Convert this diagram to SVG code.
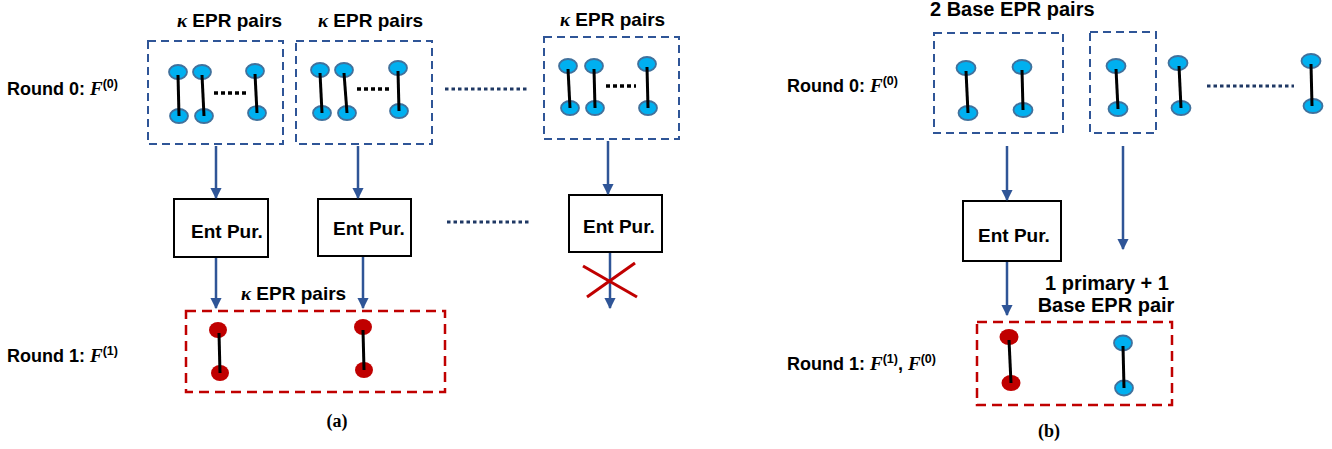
<svg xmlns="http://www.w3.org/2000/svg" width="1332" height="449" viewBox="0 0 1332 449">
<style>
.lbl{font-family:"Liberation Sans",Arial,sans-serif;font-weight:bold;fill:#000}
.mi{font-family:"Liberation Serif","Times New Roman",serif;font-weight:bold;font-style:italic}
.cap{font-family:"Liberation Serif","Times New Roman",serif;font-weight:bold;font-size:18px;fill:#000}
.bbox{fill:none;stroke:#2F5597;stroke-width:2;stroke-dasharray:8 5}
.rbox{fill:none;stroke:#C00000;stroke-width:2.5;stroke-dasharray:10 6}
.ent{fill:#fff;stroke:#000;stroke-width:2}
.bq{fill:#00B0F0;stroke:#41719C;stroke-width:1.8}
.rq{fill:#C00000}
.bond{stroke:#000;stroke-width:3}
.kdots{stroke:#000;stroke-width:3.5;stroke-dasharray:4 3}
.ndots{stroke:#1F3864;stroke-width:3;stroke-dasharray:3.5 3}
.arr{stroke:#2F5597;stroke-width:2.5;fill:none;marker-end:url(#ah)}
.x{stroke:#C00000;stroke-width:3}
</style>
<defs>
<marker id="ah" viewBox="0 0 10 10" refX="9" refY="5" markerWidth="4.6" markerHeight="4.6" orient="auto" markerUnits="strokeWidth">
<path d="M0,0 L10,5 L0,10 z" fill="#2F5597"/>
</marker>
</defs>

<!-- Panel (a) -->
<g id="a-labels">
<text class="lbl" x="177" y="27" font-size="19"><tspan class="mi">κ</tspan> EPR pairs</text>
<text class="lbl" x="318" y="27" font-size="19"><tspan class="mi">κ</tspan> EPR pairs</text>
<text class="lbl" x="560" y="26" font-size="19"><tspan class="mi">κ</tspan> EPR pairs</text>
<text class="lbl" x="241" y="300" font-size="19"><tspan class="mi">κ</tspan> EPR pairs</text>
<text class="lbl" x="7" y="95" font-size="18">Round 0: <tspan class="mi" font-size="19">F</tspan><tspan font-size="12.5" dy="-7">(0)</tspan></text>
<text class="lbl" x="7" y="362" font-size="18">Round 1: <tspan class="mi" font-size="19">F</tspan><tspan font-size="12.5" dy="-7">(1)</tspan></text>
<text class="cap" x="337" y="427" text-anchor="middle">(a)</text>
</g>

<g id="a-group1">
<rect class="bbox" x="148" y="41" width="135" height="103"/>
<ellipse class="bq" cx="178" cy="72" rx="9" ry="7"/><ellipse class="bq" cx="179" cy="116" rx="9" ry="7"/><line class="bond" x1="178" y1="75" x2="179" y2="116"/>
<ellipse class="bq" cx="202" cy="72" rx="9" ry="7"/><ellipse class="bq" cx="204" cy="116" rx="9" ry="7"/><line class="bond" x1="202" y1="75" x2="204" y2="116"/>
<ellipse class="bq" cx="255" cy="71" rx="9" ry="7"/><ellipse class="bq" cx="257" cy="113" rx="9" ry="7"/><line class="bond" x1="255" y1="74" x2="257" y2="113"/>
<line class="kdots" x1="214" y1="93" x2="248" y2="93"/>
</g>

<g id="a-group2">
<rect class="bbox" x="296" y="41" width="136" height="103"/>
<ellipse class="bq" cx="320" cy="70" rx="9" ry="7"/><ellipse class="bq" cx="322" cy="113" rx="9" ry="7"/><line class="bond" x1="320" y1="73" x2="322" y2="113"/>
<ellipse class="bq" cx="344" cy="70" rx="9" ry="7"/><ellipse class="bq" cx="347" cy="113" rx="9" ry="7"/><line class="bond" x1="344" y1="73" x2="347" y2="113"/>
<ellipse class="bq" cx="398" cy="68" rx="9" ry="7"/><ellipse class="bq" cx="399" cy="111" rx="9" ry="7"/><line class="bond" x1="398" y1="71" x2="399" y2="111"/>
<line class="kdots" x1="357" y1="89" x2="390" y2="89"/>
</g>

<g id="a-group3">
<rect class="bbox" x="544" y="37" width="135" height="102"/>
<ellipse class="bq" cx="568" cy="66" rx="9" ry="7"/><ellipse class="bq" cx="570" cy="108" rx="9" ry="7"/><line class="bond" x1="568" y1="69" x2="570" y2="108"/>
<ellipse class="bq" cx="594" cy="66" rx="9" ry="7"/><ellipse class="bq" cx="595" cy="108" rx="9" ry="7"/><line class="bond" x1="594" y1="69" x2="595" y2="108"/>
<ellipse class="bq" cx="647" cy="64" rx="9" ry="7"/><ellipse class="bq" cx="648" cy="108" rx="9" ry="7"/><line class="bond" x1="647" y1="67" x2="648" y2="108"/>
<line class="kdots" x1="606" y1="86" x2="636" y2="86"/>
</g>

<g id="a-ent1"><rect class="ent" x="174" y="199" width="94" height="58"/><text class="lbl" x="191" y="238" font-size="19">Ent Pur.</text></g>
<g id="a-ent2"><rect class="ent" x="318" y="199" width="93" height="57"/><text class="lbl" x="333" y="235" font-size="19">Ent Pur.</text></g>
<g id="a-ent3"><rect class="ent" x="569" y="195" width="93" height="57"/><text class="lbl" x="583" y="233" font-size="19">Ent Pur.</text></g>

<g id="a-round1">
<rect class="rbox" x="186" y="311" width="259" height="81"/>
<ellipse class="rq" cx="218" cy="330" rx="9" ry="8"/><ellipse class="rq" cx="220" cy="373" rx="9" ry="8"/><line class="bond" x1="219" y1="333" x2="220" y2="373"/>
<ellipse class="rq" cx="363" cy="327" rx="9" ry="8"/><ellipse class="rq" cx="364" cy="370" rx="9" ry="8"/><line class="bond" x1="363" y1="330" x2="364" y2="370"/>
</g>

<!-- Panel (b) -->
<g id="b-labels">
<text class="lbl" x="930" y="16" font-size="20">2 Base EPR pairs</text>
<text class="lbl" x="787" y="92" font-size="18">Round 0: <tspan class="mi" font-size="19">F</tspan><tspan font-size="12.5" dy="-7">(0)</tspan></text>
<text class="lbl" x="1107" y="290" font-size="20" text-anchor="middle">1 primary + 1</text>
<text class="lbl" x="1106" y="312" font-size="20" text-anchor="middle">Base EPR pair</text>
<text class="lbl" x="787" y="370" font-size="18">Round 1: <tspan class="mi" font-size="19">F</tspan><tspan font-size="12.5" dy="-7">(1)</tspan><tspan dy="7">, </tspan><tspan class="mi" font-size="19">F</tspan><tspan font-size="12.5" dy="-7">(0)</tspan></text>
<text class="cap" x="1049" y="437" text-anchor="middle">(b)</text>
</g>

<g id="b-group1">
<rect class="bbox" x="934" y="33" width="129" height="100"/>
<ellipse class="bq" cx="966" cy="68" rx="9.5" ry="7"/><ellipse class="bq" cx="968" cy="113" rx="9.5" ry="7"/><line class="bond" x1="966" y1="71" x2="968" y2="113"/>
<ellipse class="bq" cx="1022" cy="67" rx="9.5" ry="7"/><ellipse class="bq" cx="1023" cy="110" rx="9.5" ry="7"/><line class="bond" x1="1022" y1="70" x2="1023" y2="110"/>
</g>

<g id="b-group2">
<rect class="bbox" x="1090" y="32" width="66" height="101"/>
<ellipse class="bq" cx="1116" cy="66" rx="9.5" ry="7"/><ellipse class="bq" cx="1118" cy="109" rx="9.5" ry="7"/><line class="bond" x1="1116" y1="69" x2="1118" y2="109"/>
</g>

<g id="b-rest">
<ellipse class="bq" cx="1178" cy="63" rx="9.5" ry="7"/><ellipse class="bq" cx="1181" cy="108" rx="9.5" ry="7"/><line class="bond" x1="1179" y1="66" x2="1181" y2="108"/>
<ellipse class="bq" cx="1311" cy="61" rx="9.5" ry="7"/><ellipse class="bq" cx="1313" cy="106" rx="9.5" ry="7"/><line class="bond" x1="1311" y1="64" x2="1312" y2="106"/>
<line class="ndots" x1="1207" y1="86" x2="1294" y2="86"/>
</g>

<g id="b-ent"><rect class="ent" x="963" y="201" width="98" height="60"/><text class="lbl" x="978" y="242" font-size="19">Ent Pur.</text></g>

<g id="b-round1">
<rect class="rbox" x="977" y="322" width="195" height="83"/>
<ellipse class="rq" cx="1009" cy="337" rx="9.5" ry="8"/><ellipse class="rq" cx="1011" cy="383" rx="9.5" ry="8"/><line class="bond" x1="1009" y1="340" x2="1011" y2="383"/>
<ellipse class="bq" cx="1123" cy="343" rx="9" ry="7.5"/><ellipse class="bq" cx="1124" cy="388" rx="9" ry="7.5"/><line class="bond" x1="1123" y1="346" x2="1124" y2="388"/>
</g>

<g id="connectors">
<line class="ndots" x1="445" y1="89" x2="528" y2="89"/>
<line class="ndots" x1="447" y1="222" x2="530" y2="222"/>
<line class="arr" x1="216" y1="146" x2="216" y2="198"/>
<line class="arr" x1="358" y1="146" x2="358" y2="198"/>
<line class="arr" x1="608" y1="141" x2="608" y2="194"/>
<line class="arr" x1="216" y1="258" x2="216" y2="308"/>
<line class="arr" x1="363" y1="257" x2="363" y2="308"/>
<line class="arr" x1="610" y1="253" x2="610" y2="308"/>
<line class="x" x1="583" y1="266" x2="637" y2="297"/>
<line class="x" x1="587" y1="297" x2="635" y2="263"/>
<line class="arr" x1="1007" y1="146" x2="1007" y2="200"/>
<line class="arr" x1="1123" y1="146" x2="1123" y2="249"/>
<line class="arr" x1="1007" y1="262" x2="1007" y2="315"/>
</g>
</svg>
